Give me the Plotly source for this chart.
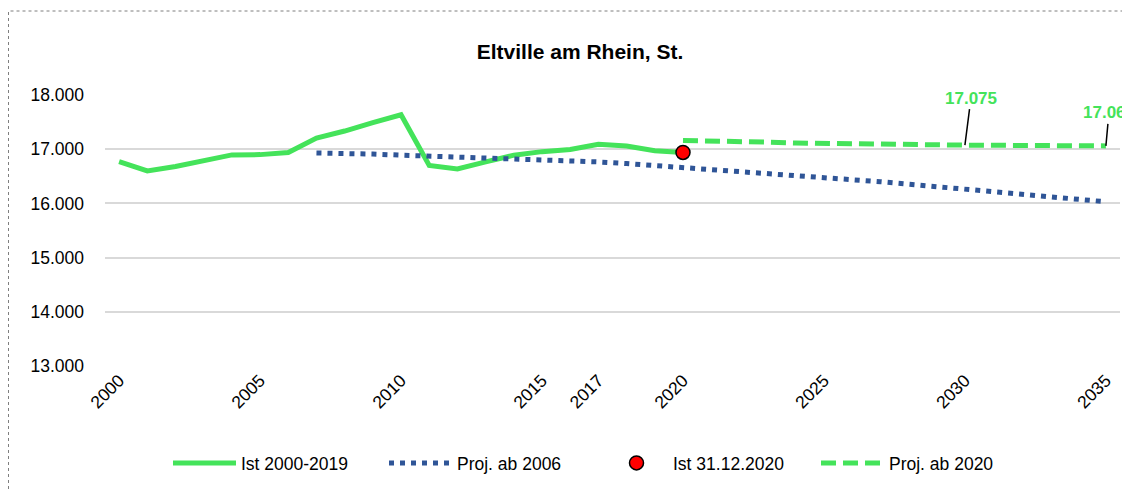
import plotly.graph_objects as go

# ---- data ----
ist_years = list(range(2000, 2021))
ist_values = [16770, 16600, 16680, 16780, 16895, 16900, 16940, 17205, 17335, 17490,
              17635, 16700, 16635, 16765, 16890, 16955, 16995, 17090, 17060, 16970, 16940]

proj06_years = list(range(2007, 2036))
proj06_values = [16930, 16925, 16910, 16890, 16875, 16858, 16840, 16825, 16805, 16785,
                 16765, 16735, 16700, 16660, 16625, 16590, 16560, 16525, 16480, 16440,
                 16400, 16355, 16310, 16270, 16220, 16175, 16125, 16075, 16030]

ist2020_year = [2020]
ist2020_value = [16940]

proj20_years = list(range(2020, 2036))
proj20_values = [17160, 17155, 17148, 17130, 17115, 17105, 17093, 17083, 17080, 17077,
                 17075, 17072, 17070, 17067, 17064, 17061]

tick_years = [2000, 2005, 2010, 2015, 2017, 2020, 2025, 2030, 2035]
title_text = "Eltville am Rhein, St."
labels = ["Ist 2000-2019", "Proj. ab 2006", "Ist 31.12.2020", "Proj. ab 2020"]

GREEN = "#44E35A"
BLUE = "#2F5597"
FONT = "Liberation Sans, Arial, sans-serif"

# page body has an 8px margin; figure coordinates = screen coordinates - 8
OFF = 8
W, H = 1130 - OFF, 499 - 2 * OFF
L, T = 105 - OFF, 95 - OFF
R = W - (1120 - OFF)
B = H - (366 - OFF)
pw, ph = W - L - R, H - T - B


def px_x(p):
    return (p - OFF - L) / pw


def px_y(p):
    return (H - B - (p - OFF)) / ph


fig = go.Figure()
fig.add_trace(go.Scatter(x=ist_years, y=ist_values, mode="lines", name=labels[0],
                         line=dict(color=GREEN, width=5)))
fig.add_trace(go.Scatter(x=proj06_years, y=proj06_values, mode="lines", name=labels[1],
                         line=dict(color=BLUE, width=5, dash="5px,6px")))
fig.add_trace(go.Scatter(x=ist2020_year, y=ist2020_value, mode="markers", name=labels[2],
                         marker=dict(color="#FF0000", size=14,
                                     line=dict(color="black", width=1.5))))
fig.add_trace(go.Scatter(x=proj20_years, y=proj20_values, mode="lines", name=labels[3],
                         line=dict(color=GREEN, width=5, dash="15px,7px")))

# value labels with leader lines
for yr, dx, dy in [(2030, 6, -47), (2035, 3, -33)]:
    v = proj20_values[proj20_years.index(yr)]
    fig.add_annotation(x=yr, y=v, text=f"{v:,}".replace(",", "."),
                       showarrow=True, arrowhead=0, arrowwidth=1.5, arrowcolor="black",
                       ax=dx, ay=dy, font=dict(family=FONT, size=17, color=GREEN,
                                               weight="bold"))

# outer dotted border
fig.add_shape(type="rect", xref="paper", yref="paper",
              x0=px_x(OFF + 0.5), x1=px_x(1145), y0=px_y(515), y1=px_y(11),
              line=dict(color="#7F7F7F", width=1, dash="dot"), layer="below")

fig.update_layout(
    width=W, height=H,
    margin=dict(l=L, r=R, t=T, b=B, autoexpand=False),
    plot_bgcolor="white", paper_bgcolor="white",
    separators=",.",
    font=dict(family=FONT, size=17, color="black"),
    title=dict(text=f"<b>{title_text}</b>", x=(580 - OFF) / W, xanchor="center",
               y=1 - (52 - OFF) / H, yanchor="middle", font=dict(size=21, family=FONT)),
    xaxis=dict(range=[1999.5, 2035.5], tickvals=tick_years, tickangle=-45,
               showgrid=False, zeroline=False, showline=False, ticks="",
               tickfont=dict(size=17.5), automargin=False),
    yaxis=dict(range=[13000, 18000], dtick=1000, tickformat=",.0f",
               showgrid=True, gridcolor="#D9D9D9", gridwidth=2, zeroline=False,
               showline=False, ticks="", ticklabelstandoff=20,
               tickfont=dict(size=17.5), automargin=False),
    showlegend=True,
    legend=dict(orientation="h", x=px_x(168), xanchor="left", y=px_y(463),
                yanchor="middle", entrywidth=138, entrywidthmode="pixels",
                font=dict(size=17.5), itemwidth=63, bgcolor="rgba(0,0,0,0)"),
)

fig.write_html("out.html")
